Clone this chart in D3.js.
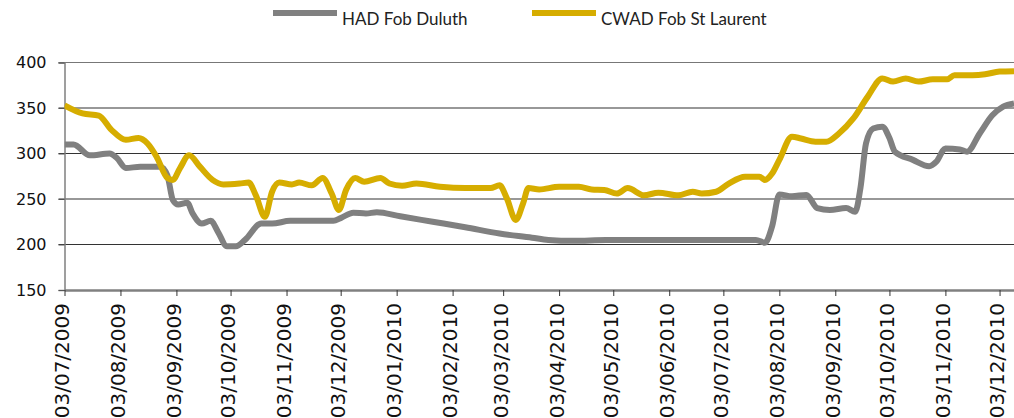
<!DOCTYPE html>
<html>
<head>
<meta charset="utf-8">
<script src="https://cdn.jsdelivr.net/npm/d3@7"></script>
<style>
  html, body { margin: 0; padding: 0; background: #fff; }
  svg { display: block; }
</style>
</head>
<body>
<svg id="chart" width="1014" height="418"></svg>
<script>
// ---- Data ----
const seriesNames = ["HAD Fob Duluth", "CWAD Fob St Laurent"];
const yTicks = [150, 200, 250, 300, 350, 400];
const xTickDates = ["2009-07-03","2009-08-03","2009-09-03","2009-10-03","2009-11-03","2009-12-03",
  "2010-01-03","2010-02-03","2010-03-03","2010-04-03","2010-05-03","2010-06-03",
  "2010-07-03","2010-08-03","2010-09-03","2010-10-03","2010-11-03","2010-12-03"];

const hadDates = ["2009-07-03","2009-07-08","2009-07-17","2009-07-28","2009-08-01","2009-08-06","2009-08-14",
  "2009-08-25","2009-08-29","2009-09-01","2009-09-04","2009-09-09","2009-09-12","2009-09-17","2009-09-22",
  "2009-09-26","2009-10-01","2009-10-06","2009-10-11","2009-10-20","2009-10-26","2009-11-05","2009-11-15",
  "2009-11-29","2009-12-03","2009-12-10","2009-12-17","2009-12-23","2010-01-05","2010-01-23","2010-02-10",
  "2010-03-01","2010-03-19","2010-03-28","2010-04-11","2010-04-29","2010-05-30","2010-06-30","2010-07-21",
  "2010-07-26","2010-07-30","2010-08-03","2010-08-10","2010-08-18","2010-08-24","2010-08-31","2010-09-09",
  "2010-09-14","2010-09-17","2010-09-20","2010-09-24","2010-09-29","2010-10-03","2010-10-06","2010-10-16",
  "2010-10-25","2010-10-29","2010-11-03","2010-11-11","2010-11-15","2010-11-22","2010-11-29","2010-12-05",
  "2010-12-11"];
const hadValues = [310,310,298,300,295,284,285.5,285.5,276,249,244,246,234,223,226,214,198,198,205,223,223,
  226,226,226,229,235,234,235.5,231,225,219,212,207.5,205,204,205,205,205,205,202,220,255,253,254.5,240,238,
  240,236,263,311,327.5,329.5,317,302,293,286,291,305.5,304.5,302,322,342,351.5,355];

const cwadDates = ["2009-07-03","2009-07-13","2009-07-22","2009-07-29","2009-08-06","2009-08-13","2009-08-18",
  "2009-08-23","2009-08-29","2009-09-01","2009-09-05","2009-09-10","2009-09-16","2009-09-23","2009-09-29",
  "2009-10-08","2009-10-13","2009-10-17","2009-10-22","2009-10-26","2009-10-30","2009-11-06","2009-11-10",
  "2009-11-17","2009-11-23","2009-11-28","2009-12-02","2009-12-06","2009-12-11","2009-12-16","2009-12-25",
  "2009-12-30","2010-01-06","2010-01-14","2010-01-27","2010-02-10","2010-02-24","2010-03-01","2010-03-05",
  "2010-03-10","2010-03-14","2010-03-17","2010-03-23","2010-04-03","2010-04-14","2010-04-21","2010-04-28",
  "2010-05-05","2010-05-11","2010-05-20","2010-05-28","2010-06-08","2010-06-16","2010-06-21","2010-06-29",
  "2010-07-06","2010-07-15","2010-07-23","2010-07-26","2010-07-30","2010-08-03","2010-08-10","2010-08-15",
  "2010-08-23","2010-08-29","2010-09-05","2010-09-13","2010-09-21","2010-09-29","2010-10-05","2010-10-12",
  "2010-10-19","2010-10-27","2010-11-04","2010-11-08","2010-11-18","2010-11-25","2010-12-03","2010-12-11"];
const cwadValues = [353,344,341.5,326,315,317,311,296.5,273,271,284,298,285.5,271,266,267,268,254,230.5,258,
  268,266,268,265,273,256,238,260,273,269,273,267,264.5,267,263.5,262,262,265,251,227,245,262,260.5,263.5,
  263.5,260.5,260,256,262,254,257,254,258,256,258,267,274.5,274.5,271,278,293,318.5,316.5,313,313,322,338.5,
  362.5,382.5,379,382.5,379,381.5,381.5,386,386,387,390,390.5];

// ---- Layout ----
const svg = d3.select("#chart");
const parse = d3.timeParse("%Y-%m-%d");
const mLeft = 64.5, mRight = 1014, mTop = 62.5, mBottom = 290;

const x = d3.scaleTime()
  .domain([parse("2009-07-03"), parse("2010-12-11")])
  .range([mLeft, mRight]);
const y = d3.scaleLinear().domain([150, 400]).range([mBottom, mTop]);

// gridlines
svg.append("g").selectAll("line")
  .data(yTicks.filter(d => d > 150))
  .join("line")
  .attr("x1", mLeft - 6).attr("x2", mRight)
  .attr("y1", d => y(d)).attr("y2", d => y(d))
  .attr("stroke", d => d === 400 ? "#777" : "#333")
  .attr("stroke-width", 1.2);

// y axis
const yAxis = d3.axisLeft(y).tickValues(yTicks).tickSize(6).tickPadding(12);
const gy = svg.append("g").attr("transform", `translate(${mLeft},0)`).call(yAxis);
gy.select(".domain").attr("stroke", "#808080").attr("stroke-width", 1.5);
gy.selectAll(".tick line").attr("stroke", "#555");
gy.selectAll("text").attr("font-family", "DejaVu Sans").attr("font-size", 16).attr("fill", "#111");

// x axis
const xAxis = d3.axisBottom(x)
  .tickValues(xTickDates.map(parse))
  .tickFormat(d3.timeFormat("%d/%m/%Y"))
  .tickSize(6).tickSizeOuter(0);
const gx = svg.append("g").attr("transform", `translate(0,${mBottom})`).call(xAxis);
gx.select(".domain").attr("stroke", "#808080").attr("stroke-width", 2.5);
gx.selectAll(".tick line").attr("stroke", "#333");
gx.selectAll(".tick text")
  .attr("font-family", "DejaVu Sans").attr("font-size", 20).attr("fill", "#111")
  .attr("text-anchor", "end")
  .attr("transform", "translate(0,13) rotate(-90)")
  .attr("x", 0).attr("y", 4).attr("dy", 0);

// lines
const line = d3.line()
  .x(d => x(d.date)).y(d => y(d.value))
  .curve(d3.curveMonotoneX);

const had = hadDates.map((d, i) => ({ date: parse(d), value: hadValues[i] }));
const cwad = cwadDates.map((d, i) => ({ date: parse(d), value: cwadValues[i] }));

svg.append("defs").append("clipPath").attr("id", "clip")
  .append("rect").attr("x", mLeft).attr("y", 0).attr("width", mRight - mLeft + 2).attr("height", mBottom);

const colors = ["#808080", "#d6ad00"];
svg.append("path").datum(had).attr("d", line)
  .attr("fill", "none").attr("stroke", colors[0]).attr("stroke-width", 6)
  .attr("stroke-linejoin", "round").attr("clip-path", "url(#clip)");
svg.append("path").datum(cwad).attr("d", line)
  .attr("fill", "none").attr("stroke", colors[1]).attr("stroke-width", 6)
  .attr("stroke-linejoin", "round").attr("clip-path", "url(#clip)");

// legend
const legendItems = [
  { name: seriesNames[0], color: colors[0], x: 273 },
  { name: seriesNames[1], color: colors[1], x: 532 }
];
const lg = svg.append("g");
legendItems.forEach(it => {
  lg.append("rect").attr("x", it.x).attr("y", 10).attr("width", 64).attr("height", 6).attr("fill", it.color);
  lg.append("text").attr("x", it.x + 69).attr("y", 25)
    .attr("font-family", "Lato").attr("font-size", 17).attr("fill", "#222")
    .text(it.name);
});
</script>
</body>
</html>
